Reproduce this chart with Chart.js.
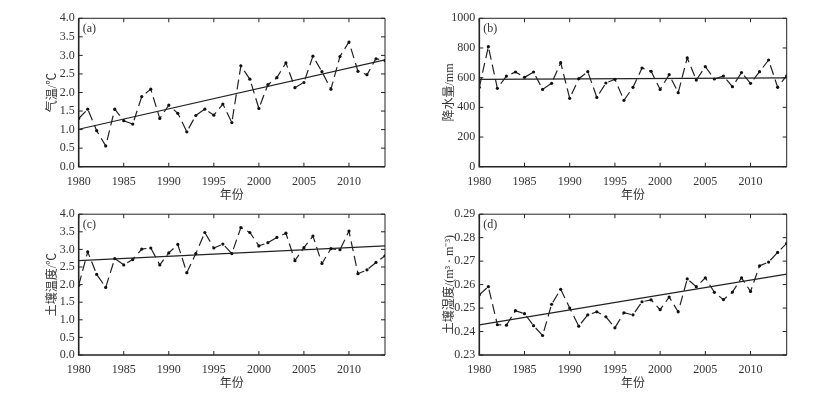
<!DOCTYPE html>
<html>
<head>
<meta charset="utf-8">
<script src="https://cdn.jsdelivr.net/npm/chart.js@4.4.1/dist/chart.umd.min.js"></script>
<style>
  body { margin: 0; width: 821px; height: 394px; background: #fff; position: relative; overflow: hidden; }
  canvas { position: absolute; }
</style>
</head>
<body>
<canvas id="chartA" width="360" height="203" style="left:40px;top:0px"></canvas>
<canvas id="chartB" width="370" height="203" style="left:437px;top:0px"></canvas>
<canvas id="chartC" width="360" height="191" style="left:40px;top:203px"></canvas>
<canvas id="chartD" width="370" height="191" style="left:437px;top:203px"></canvas>

<script>
const years = [1980, 1981, 1982, 1983, 1984, 1985, 1986, 1987, 1988, 1989,
  1990, 1991, 1992, 1993, 1994, 1995, 1996, 1997, 1998, 1999,
  2000, 2001, 2002, 2003, 2004, 2005, 2006, 2007, 2008, 2009,
  2010, 2011, 2012, 2013, 2014];
const trendYears = [1980, 2014];
const yearTicks = [1980, 1985, 1990, 1995, 2000, 2005, 2010];

// (a) 气温
const airTemp = [1.30, 1.55, 0.97, 0.56, 1.55, 1.24, 1.15, 1.89, 2.09, 1.30,
  1.66, 1.44, 0.94, 1.38, 1.55, 1.39, 1.69, 1.19, 2.72, 2.36,
  1.57, 2.21, 2.40, 2.80, 2.13, 2.27, 2.98, 2.56, 2.09, 2.97,
  3.36, 2.57, 2.48, 2.91, 2.86];
const airTempTrend = [1.01, 2.88];
const airTempTicks = [0, 0.5, 1, 1.5, 2, 2.5, 3, 3.5, 4];

// (b) 降水量
const rain = [535, 809, 528, 611, 638, 602, 638, 521, 562, 701,
  461, 593, 640, 467, 564, 589, 447, 535, 665, 643,
  521, 620, 499, 733, 584, 674, 591, 611, 539, 634,
  562, 640, 719, 535, 613];
const rainTrend = [589, 598];
const rainTicks = [0, 200, 400, 600, 800, 1000];

// (c) 土壤温度
const soilTemp = [1.98, 2.93, 2.29, 1.92, 2.74, 2.56, 2.71, 3.01, 3.04, 2.56,
  2.90, 3.14, 2.34, 2.88, 3.48, 3.04, 3.15, 2.88, 3.62, 3.48,
  3.10, 3.19, 3.34, 3.46, 2.68, 3.05, 3.38, 2.60, 3.02, 2.99,
  3.52, 2.31, 2.42, 2.63, 2.82];
const soilTempTrend = [2.68, 3.10];
const soilTempTicks = [0, 0.5, 1, 1.5, 2, 2.5, 3, 3.5, 4];

// (d) 土壤湿度
const soilMoist = [0.2557, 0.2591, 0.2429, 0.2427, 0.2489, 0.2476, 0.2425, 0.2383, 0.2516, 0.2580,
  0.2500, 0.2423, 0.2471, 0.2484, 0.2463, 0.2416, 0.2480, 0.2471, 0.2527, 0.2535,
  0.2493, 0.2547, 0.2484, 0.2624, 0.2591, 0.2629, 0.2567, 0.2536, 0.2568, 0.2629,
  0.2571, 0.2680, 0.2696, 0.2737, 0.2776];
const soilMoistTrend = [0.2428, 0.2645];
const soilMoistTicks = [0.23, 0.24, 0.25, 0.26, 0.27, 0.28, 0.29];

const FONT = "'Liberation Serif', 'Noto Sans CJK SC', serif";
const INK = '#222';


// draws the box, inward ticks and the panel letter
const frameTicks = {
  id: 'frameTicks',
  afterDraw(chart, args, opts) {
    const ctx = chart.ctx;
    const a = chart.chartArea;
    const xs = chart.scales.x;
    const ys = chart.scales.y;
    const len = 4;
    ctx.save();
    ctx.strokeStyle = INK;
    ctx.lineWidth = 1;
    ctx.beginPath();
    yearTicks.forEach(v => {
      const px = xs.getPixelForValue(v);
      ctx.moveTo(px, a.bottom); ctx.lineTo(px, a.bottom - len);
      ctx.moveTo(px, a.top); ctx.lineTo(px, a.top + len);
    });
    opts.yTicks.forEach(v => {
      const py = ys.getPixelForValue(v);
      ctx.moveTo(a.left, py); ctx.lineTo(a.left + len, py);
      ctx.moveTo(a.right, py); ctx.lineTo(a.right - len, py);
    });
    ctx.stroke();
    ctx.beginPath();
    ctx.moveTo(a.left, a.top); ctx.lineTo(a.right, a.top); ctx.lineTo(a.right, a.bottom);
    ctx.stroke();
    ctx.lineWidth = 1.6;
    ctx.beginPath();
    ctx.moveTo(a.left, a.top); ctx.lineTo(a.left, a.bottom); ctx.lineTo(a.right, a.bottom);
    ctx.stroke();
    ctx.fillStyle = '#333';
    ctx.font = '12px ' + FONT;
    ctx.textBaseline = 'top';
    ctx.fillText(opts.letter, a.left + 4, a.top + 5);
    ctx.restore();
  }
};


function toPoints(xs, ys) {
  return xs.map((x, i) => ({ x: x, y: ys[i] }));
}


function renderPanel(id, values, trend, yTicks, decimals, title, letter, pad) {
  const ctx = document.getElementById(id);
  new Chart(ctx, {
    type: 'line',
    data: {
      datasets: [{
        data: toPoints(years, values),
        borderColor: INK,
        borderWidth: 1.2,
        borderDash: [10, 5],
        pointRadius: 1.6,
        pointBackgroundColor: '#111',
        pointBorderWidth: 0,
        tension: 0
      }, {
        data: toPoints(trendYears, trend),
        borderColor: INK,
        borderWidth: 1.2,
        pointRadius: 0,
        tension: 0
      }]
    },
    options: {
      responsive: false,
      animation: false,
      events: [],
      layout: { padding: pad },
      plugins: {
        legend: { display: false },
        tooltip: { enabled: false },
        frameTicks: { yTicks: yTicks, letter: letter }
      },
      scales: {
        x: {
          type: 'linear',
          min: 1980,
          max: 2014,
          grid: { display: false, drawTicks: false },
          border: { display: false },
          afterBuildTicks: s => { s.ticks = yearTicks.map(v => ({ value: v })); },
          afterFit: s => { s.height = 36.3; },
          ticks: {
            padding: 8,
            color: '#333',
            font: { family: FONT, size: 12 },
            callback: v => String(v)
          },
          title: {
            display: true,
            text: '年份',
            color: '#333',
            font: { family: FONT, size: 12 },
            padding: { top: 0, bottom: 0 }
          }
        },
        y: {
          min: yTicks[0],
          max: yTicks[yTicks.length - 1],
          grid: { display: false, drawTicks: false },
          border: { display: false },
          afterBuildTicks: s => { s.ticks = yTicks.map(v => ({ value: v })); },
          afterFit: s => { s.width = pad.axisW; },
          ticks: {
            padding: 4,
            color: '#333',
            font: { family: FONT, size: 12 },
            callback: v => Number(v).toFixed(decimals)
          },
          title: {
            display: true,
            text: title,
            color: '#333',
            font: { family: FONT, size: 12 },
            padding: { top: 6, bottom: 0 }
          }
        }
      }
    },
    plugins: [frameTicks]
  });
}


function init() {
  renderPanel('chartA', airTemp, airTempTrend, airTempTicks, 1, '气温/℃', '(a)',
    { left: 0, top: 18.3, right: 15, bottom: 0, axisW: 38.7 });
  renderPanel('chartB', rain, rainTrend, rainTicks, 0, '降水量/mm', '(b)',
    { left: 0, top: 18.3, right: 20.3, bottom: 0, axisW: 42.3 });
  renderPanel('chartC', soilTemp, soilTempTrend, soilTempTicks, 1, '土壤温度/℃', '(c)',
    { left: 0, top: 2.7, right: 15, bottom: 2.7, axisW: 38.7 });
  renderPanel('chartD', soilMoist, soilMoistTrend, soilMoistTicks, 2, '土壤湿度/(m³ · m⁻³)', '(d)',
    { left: 0, top: 2.7, right: 20.3, bottom: 2.7, axisW: 42.3 });
}

init();
</script>
</body>
</html>
